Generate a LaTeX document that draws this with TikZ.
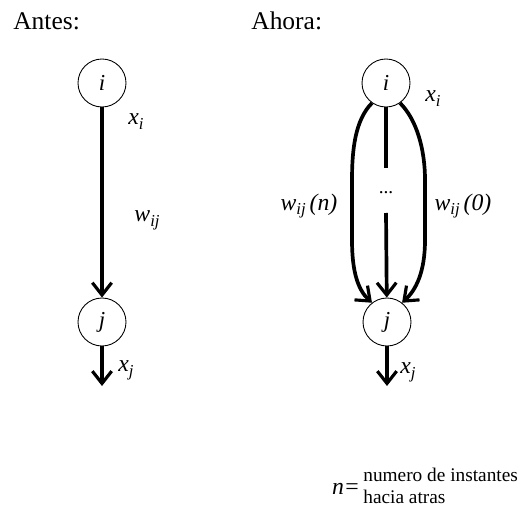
\documentclass[tikz,border=0pt]{standalone}
\usepackage{fontspec}
\setmainfont{Liberation Serif}
\usetikzlibrary{arrows.meta}
\newcommand{\sbs}[1]{\raisebox{-0.45ex}{\fontsize{9.5}{9.5}\selectfont #1}}
\begin{document}
\begin{tikzpicture}[x=0.02cm,y=-0.02cm,
  neuron/.style={circle,draw,line width=0.5pt,minimum size=0.96cm,inner sep=0pt,font=\fontsize{13}{13}\selectfont\itshape},
  conn/.style={line width=2.1pt,-{Straight Barb[length=7pt,width=11pt,line width=1.8pt]}},
  lbl/.style={font=\fontsize{13.5}{13.5}\selectfont\itshape,inner sep=0pt},
  ttl/.style={font=\fontsize{14.5}{14.5}\selectfont,inner sep=0pt,anchor=west}]
\useasboundingbox (0,0) rectangle (520,520);
% titles
\node[ttl] (antes) at (13,21) {Antes:};
\node[ttl] (ahora) at (251,21) {Ahora:};
% left
\node[neuron] (li) at (102,83) {i};
\node[neuron] (lj) at (102,322) {j};
\coordinate (lout) at (102,386);
\draw[conn] (li) -- (lj);
\draw[conn] (lj) -- (lout);
\node[lbl] (lxi) at (136,122) {x\sbs{i}};
\node[lbl] (lw) at (147,220) {w\sbs{ij}};
\node[lbl] (lxj) at (126,370) {x\sbs{j}};
% right
\node[neuron] (ri) at (386,83) {i};
\node[neuron] (rj) at (387,322) {j};
\coordinate (rout) at (387,386);
\coordinate (mtop) at (386,168);
\coordinate (mbot) at (386,213);
\node[lbl,font=\fontsize{11}{11}\selectfont] (dots) at (386,193) {...};
\draw[line width=2.1pt] (ri) -- (mtop);
\draw[conn] (mbot) -- (rj);
\draw[conn] (ri.235) .. controls (355,120) and (352,150) .. (352,180) -- (352,240)
   .. controls (352,272) and (358,290) .. (rj.128);
\draw[conn] (ri.305) .. controls (417,120) and (425,150) .. (425,180) -- (425,240)
   .. controls (425,272) and (416,290) .. (rj.52);
\draw[conn] (rj) -- (rout);
\node[lbl] (rxi) at (433,99) {x\sbs{i}};
\node[lbl] (rwn) at (309,206) {w\sbs{ij}\,(n)};
\node[lbl] (rw0) at (463,206) {w\sbs{ij}\,(0)};
\node[lbl] (rxj) at (408,372) {x\sbs{j}};
% note
\node[lbl] (nn) at (346,489) {n=};
\node[inner sep=0pt,anchor=west,font=\fontsize{11}{12.5}\selectfont,align=left] (note) at (363,486) {numero de instantes\\hacia atras};
\end{tikzpicture}
\end{document}
